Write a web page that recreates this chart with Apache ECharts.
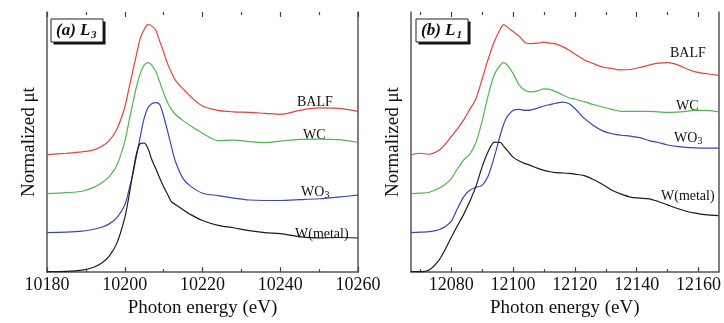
<!DOCTYPE html>
<html>
<head>
<meta charset="utf-8">
<script src="https://cdn.jsdelivr.net/npm/echarts@6/dist/echarts.min.js"></script>
<style>
  html, body { margin: 0; padding: 0; background: #fff; }
  #main { width: 724px; height: 323px; }
</style>
</head>
<body>
<div id="main"></div>
<script>
// (a) L3 edge, photon energy in eV, curves already offset (arbitrary units)
const l3Energy = [10180, 10185, 10189, 10192, 10194, 10196, 10198, 10200, 10201, 10202, 10203, 10204, 10205, 10206, 10207, 10208, 10209, 10210, 10211, 10212, 10213, 10215, 10217, 10220, 10224, 10228, 10232, 10236, 10240, 10245, 10250, 10255, 10260];
const l3Balf  = [120.5, 122, 123.5, 125.5, 129, 135, 147, 169, 187, 205, 223, 240, 249, 254, 252.5, 248, 237, 226, 214, 205, 197, 188, 180, 170.5, 166, 164.5, 164, 163, 162, 166, 168.5, 168, 165];
const l3Wc    = [80.5, 81.5, 83, 87, 91.5, 98, 110, 134, 153, 172, 190, 204, 212.5, 215, 212, 206, 195, 184, 174, 167, 162, 155.5, 150, 142.5, 135, 135.5, 134, 133, 134.5, 136.3, 136.6, 136, 133.3];
const l3Wo3   = [40.5, 41, 42, 44, 46, 49.5, 56, 69, 83, 99, 119, 139, 158, 169, 173, 174, 172, 160, 145, 129, 114, 96, 88, 81, 78.5, 76, 74, 73.5, 73.5, 74.3, 75.3, 77, 79];
const l3Metal = [0.5, 0.7, 2, 5, 9, 16.5, 30, 55.7, 76, 100, 121, 132, 132.5, 126.5, 115, 106, 96.5, 87.5, 80, 72.3, 69.5, 64, 59, 53, 48, 45.5, 42.5, 40.5, 39.5, 36.5, 35, 35.5, 35];

// (b) L1 edge
const l1Energy = [12067, 12070, 12073, 12076, 12078, 12080, 12082, 12084, 12086, 12088, 12090, 12092, 12094, 12096, 12097, 12098, 12100, 12102, 12104, 12106, 12108, 12110, 12112, 12114, 12116, 12118, 12120, 12123, 12126, 12129, 12132, 12135, 12138, 12141, 12144, 12147, 12150, 12153, 12156, 12159, 12162, 12166.5];
const l1Balf  = [120.5, 122, 121, 125, 131, 139, 147, 156, 167, 178, 198, 219, 237, 250, 254, 252, 247, 242, 235.5, 234.5, 235, 236, 235, 234, 231.5, 228, 224, 218, 214, 210.5, 209, 207.5, 208, 210, 212.5, 214.5, 215, 213, 209, 205.5, 204, 202];
const l1Wc    = [80.5, 81, 82, 86, 90, 95.7, 106, 115, 121, 133, 155, 182, 203, 213, 215, 213, 204, 192, 186.5, 185, 186, 188, 187.5, 185, 182, 179, 177.5, 175, 172, 169.5, 167, 165, 165, 165, 165, 164.5, 164, 164.3, 165, 166, 166, 164.5];
const l1Wo3   = [40.5, 41, 41.5, 43.5, 46.5, 52, 65, 77, 84, 87, 89, 99, 119, 142, 152, 159, 166, 167, 166, 166.5, 168.5, 170.5, 172, 173.5, 174.5, 173, 168, 158, 150.5, 145, 142, 140.5, 139.5, 138, 135, 133, 130.5, 129, 128, 127.5, 127.3, 127.3];
const l1Metal = [0.5, 0.5, 2.5, 12, 23, 35.5, 47.5, 59, 72.5, 88, 108, 124, 133.5, 133, 129, 125.5, 118, 114, 111.3, 109, 106.5, 104.5, 103, 102.2, 101.8, 101.3, 100.5, 99, 95, 90, 84, 80, 77, 76, 75.2, 72.5, 69, 65.5, 62.5, 60.5, 59, 58];

const l3Ticks = [10180, 10200, 10220, 10240, 10260];
const l3MinorTicks = [10190, 10210, 10230, 10250];
const l1Ticks = [12080, 12100, 12120, 12140, 12160];
const l1MinorTicks = [12070, 12090, 12110, 12130, 12150];

const serif = 'Liberation Serif';
const axisColor = '#555';
const colors = { balf: '#f03c3c', wc: '#4cb94c', wo3: '#3a46b2', metal: '#1c1c1c' };

let myChart = echarts.init(document.getElementById('main'));

let makeX = (grid, min, max, values, pos, len, main) => ({
    type: 'value',
    gridIndex: grid,
    position: pos,
    min: min,
    max: max,
    splitLine: { show: false },
    axisLine: { show: main, lineStyle: { color: axisColor, width: 1.5 } },
    axisTick: { show: true, inside: true, length: len, customValues: values, lineStyle: { color: '#444', width: 1.2 } },
    axisLabel: main ? {
        show: true, customValues: values, margin: 4,
        formatter: (v) => String(v),
        fontFamily: serif, fontSize: 18, color: '#111'
    } : { show: false },
    name: main ? 'Photon energy (eV)' : '',
    nameLocation: 'middle',
    nameGap: 24,
    nameTextStyle: { fontFamily: serif, fontSize: 19, color: '#111' }
});

let makeY = (grid, pos) => ({
    type: 'value',
    gridIndex: grid,
    position: pos,
    min: 0,
    max: 267,
    splitLine: { show: false },
    axisLine: { show: true, lineStyle: { color: axisColor, width: 1.5 } },
    axisTick: { show: false },
    axisLabel: { show: false },
    name: pos === 'left' ? 'Normalized μt' : '',
    nameLocation: 'middle',
    nameGap: 8,
    nameTextStyle: { fontFamily: serif, fontSize: 19, color: '#111' }
});

let pairs = (xs, ys) => xs.map((x, i) => [x, ys[i]]);

let line = (xi, yi, xs, ys, color) => ({
    type: 'line',
    xAxisIndex: xi,
    yAxisIndex: yi,
    data: pairs(xs, ys),
    showSymbol: false,
    smooth: 0.3,
    lineStyle: { color: color, width: 1.2 },
    itemStyle: { color: color }
});

let label = (x, y, text, size) => ({
    type: 'text', x: x, y: y,
    style: { text: text, fontFamily: serif, fontSize: size || 14, fill: '#111', verticalAlign: 'middle' }
});

let panelBox = (x, y, main, sub, subX) => [
    { type: 'rect', shape: { x: x + 2.5, y: y + 2.5, width: 52, height: 23 }, style: { fill: '#111' } },
    { type: 'rect', shape: { x: x, y: y, width: 52, height: 23 }, style: { fill: '#fff', stroke: '#222', lineWidth: 1 } },
    { type: 'text', x: x + 5, y: y + 11.5, style: { text: main, fontFamily: serif, fontSize: 17, fontStyle: 'italic', fontWeight: 'bold', fill: '#111', verticalAlign: 'middle' } },
    { type: 'text', x: subX, y: y + 16, style: { text: sub, fontFamily: serif, fontSize: 11, fontStyle: 'italic', fontWeight: 'bold', fill: '#111', verticalAlign: 'middle' } }
];

let option = {
    animation: false,
    backgroundColor: '#fff',
    grid: [
        { left: 47, right: 366, top: 12, bottom: 44 },
        { left: 411, right: 2, top: 12, bottom: 44 }
    ],
    xAxis: [
        makeX(0, 10180, 10260, l3Ticks, 'bottom', 5, true),
        makeX(0, 10180, 10260, l3MinorTicks, 'bottom', 3, false),
        makeX(0, 10180, 10260, l3Ticks, 'top', 5, false),
        makeX(0, 10180, 10260, l3MinorTicks, 'top', 3, false),
        makeX(1, 12067, 12166.5, l1Ticks, 'bottom', 5, true),
        makeX(1, 12067, 12166.5, l1MinorTicks, 'bottom', 3, false),
        makeX(1, 12067, 12166.5, l1Ticks, 'top', 5, false),
        makeX(1, 12067, 12166.5, l1MinorTicks, 'top', 3, false)
    ],
    yAxis: [
        makeY(0, 'left'),
        makeY(0, 'right'),
        makeY(1, 'left'),
        makeY(1, 'right')
    ],
    series: [
        line(0, 0, l3Energy, l3Balf, colors.balf),
        line(0, 0, l3Energy, l3Wc, colors.wc),
        line(0, 0, l3Energy, l3Wo3, colors.wo3),
        line(0, 0, l3Energy, l3Metal, colors.metal),
        line(4, 2, l1Energy, l1Balf, colors.balf),
        line(4, 2, l1Energy, l1Wc, colors.wc),
        line(4, 2, l1Energy, l1Wo3, colors.wo3),
        line(4, 2, l1Energy, l1Metal, colors.metal)
    ],
    graphic: [
        ...panelBox(51, 19, '(a) L', '3', 91),
        ...panelBox(416, 19, '(b) L', '1', 456.5),
        label(297, 102.5, 'BALF'),
        label(303, 135, 'WC'),
        label(301, 192, 'WO'),
        label(324.5, 195, '3', 10),
        label(295, 234, 'W(metal)'),
        label(670, 53.5, 'BALF'),
        label(676, 106, 'WC'),
        label(674, 138, 'WO'),
        label(697.5, 141, '3', 10),
        label(661, 196.5, 'W(metal)')
    ]
};

myChart.setOption(option);
</script>
</body>
</html>
